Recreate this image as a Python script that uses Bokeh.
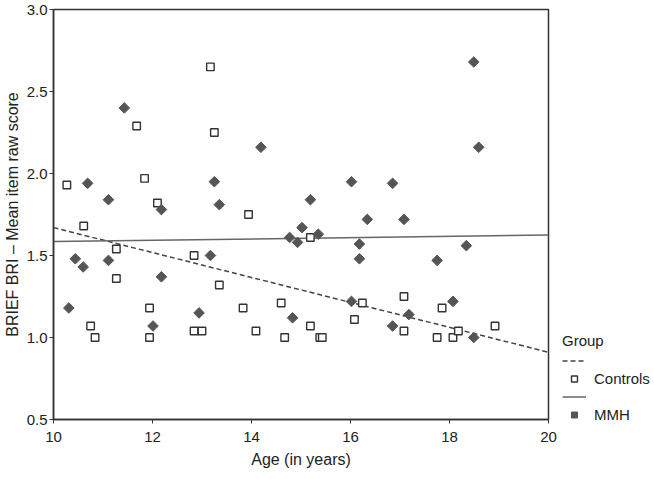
from bokeh.plotting import figure
from bokeh.models import Range1d, Legend, LegendItem, FixedTicker, CustomJSTickFormatter, ColumnDataSource
from bokeh.embed import file_html
from bokeh.resources import INLINE

# Controls (open squares)
controls_age = [10.27, 10.61, 10.75, 10.84, 11.27, 11.27, 11.68, 11.84, 11.94, 11.94,
                12.10, 12.84, 12.84, 13.00, 13.17, 13.25, 13.35, 13.83, 13.94, 14.09,
                14.60, 14.67, 15.19, 15.19, 15.38, 15.43, 16.08, 16.24, 17.08, 17.08,
                17.75, 17.85, 18.07, 18.18, 18.92]
controls_bri = [1.93, 1.68, 1.07, 1.00, 1.54, 1.36, 2.29, 1.97, 1.18, 1.00,
                1.82, 1.50, 1.04, 1.04, 2.65, 2.25, 1.32, 1.18, 1.75, 1.04,
                1.21, 1.00, 1.61, 1.07, 1.00, 1.00, 1.11, 1.21, 1.25, 1.04,
                1.00, 1.18, 1.00, 1.04, 1.07]

# MMH (filled diamonds)
mmh_age = [10.31, 10.44, 10.60, 10.69, 11.11, 11.11, 11.43, 12.01, 12.18, 12.18,
           12.94, 13.17, 13.25, 13.35, 14.19, 14.77, 14.83, 14.93, 15.02, 15.19,
           15.35, 16.02, 16.02, 16.18, 16.18, 16.34, 16.85, 16.85, 17.08, 17.18,
           17.75, 18.07, 18.34, 18.49, 18.49, 18.59]
mmh_bri = [1.18, 1.48, 1.43, 1.94, 1.84, 1.47, 2.40, 1.07, 1.78, 1.37,
           1.15, 1.50, 1.95, 1.81, 2.16, 1.61, 1.12, 1.58, 1.67, 1.84,
           1.63, 1.95, 1.22, 1.57, 1.48, 1.72, 1.94, 1.07, 1.72, 1.14,
           1.47, 1.22, 1.56, 2.68, 1.00, 2.16]

# Fit lines
fit_age = [10, 20]
controls_fit = [1.67, 0.91]
mmh_fit = [1.585, 1.625]

x_ticks = [10, 12, 14, 16, 18, 20]
y_ticks = [0.5, 1.0, 1.5, 2.0, 2.5, 3.0]

FONT = "Liberation Sans"
DARK = "#333333"

p = figure(frame_width=495, frame_height=410, output_backend="svg", toolbar_location=None,
           x_range=Range1d(10, 20), y_range=Range1d(0.5, 3.0),
           min_border_left=47, min_border_right=100, min_border_top=9, min_border_bottom=44)
p.background_fill_color = "white"
p.border_fill_color = "white"
p.outline_line_color = DARK
p.outline_line_width = 1.5
p.xgrid.visible = False
p.ygrid.visible = False

for ax in (p.xaxis[0], p.yaxis[0]):
    ax.axis_line_color = DARK
    ax.axis_line_width = 1.5
    ax.major_tick_line_color = DARK
    ax.major_tick_in = 0
    ax.major_tick_out = 4
    ax.minor_tick_line_color = None
    ax.major_label_text_font = FONT
    ax.major_label_text_font_size = "15px"
    ax.major_label_text_color = "#222222"
    ax.axis_label_text_font = FONT
    ax.axis_label_text_font_size = "16px"
    ax.axis_label_text_font_style = "normal"
    ax.axis_label_text_color = "#222222"

p.xaxis.ticker = FixedTicker(ticks=x_ticks)
p.yaxis.ticker = FixedTicker(ticks=y_ticks)
p.yaxis.formatter = CustomJSTickFormatter(code="return tick.toFixed(1);")
p.xaxis.axis_label = "Age (in years)"
p.yaxis.axis_label = "BRIEF BRI \u2013 Mean item raw score"
p.xaxis.major_label_standoff = 8
p.xaxis.axis_label_standoff = 6
p.yaxis.major_label_standoff = 2
p.yaxis.axis_label_standoff = 3

r_cfit = p.line(fit_age, controls_fit, line_color="#444444", line_width=1.5, line_dash="5 3")
r_mfit = p.line(fit_age, mmh_fit, line_color="#666666", line_width=1.5)
r_c = p.scatter(controls_age, controls_bri, marker="square", size=7.5,
                fill_color="white", line_color="#333333", line_width=1.4)
mmh_src = ColumnDataSource(dict(x=mmh_age, y=mmh_bri, a=[0.785398] * len(mmh_age)))
r_m = p.scatter("x", "y", source=mmh_src, marker="square", angle="a", size=7.5,
                fill_color="#555555", line_color="#555555")

legend = Legend(items=[
    LegendItem(label=" ", renderers=[r_cfit]),
    LegendItem(label="Controls", renderers=[r_c]),
    LegendItem(label=" ", renderers=[r_mfit]),
    LegendItem(label="MMH", renderers=[r_m], index=0),
], location=(14, -4))
legend.title = "Group"
legend.title_text_font = FONT
legend.title_text_font_size = "15px"
legend.title_text_font_style = "normal"
legend.title_text_color = "#222222"
legend.label_text_font = FONT
legend.label_text_font_size = "15px"
legend.label_text_color = "#222222"
legend.border_line_color = None
legend.background_fill_alpha = 0
legend.glyph_width = 24
legend.glyph_height = 15
legend.label_height = 15
legend.label_standoff = 8
legend.spacing = 2
legend.padding = 2
legend.margin = 0
legend.title_standoff = 4
p.add_layout(legend, "right")

open("out.html", "w").write(file_html(p, INLINE))
